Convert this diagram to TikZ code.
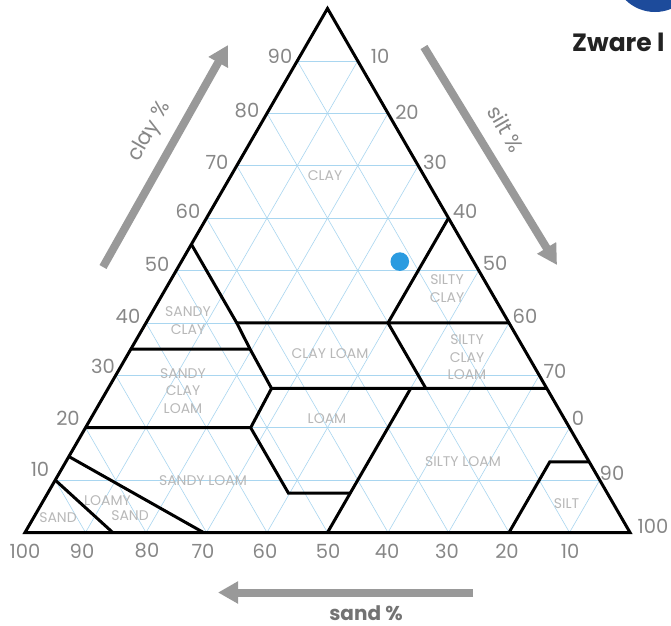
\documentclass[tikz,border=0pt]{standalone}
\usepackage{fontspec}
\setmainfont{Poppins}
\usetikzlibrary{arrows.meta}
\definecolor{gridblue}{HTML}{A9D6F0}
\definecolor{tickgray}{HTML}{878787}
\definecolor{regiongray}{HTML}{B8B8B8}
\definecolor{arrowgray}{HTML}{999999}
\definecolor{dotblue}{HTML}{2B9BE0}
\definecolor{logoblue}{HTML}{1D4B9B}
\definecolor{titleblack}{HTML}{222222}
\tikzset{
  gridline/.style={draw=gridblue, line width=0.6pt},
  boundary/.style={draw=black, line width=3pt},
  ticklbl/.style={text=tickgray, font=\fontsize{19.5}{19.5}\selectfont, inner sep=0pt},
  regionlbl/.style={text=regiongray, font=\fontsize{14}{17.5}\selectfont, align=center, inner sep=0pt},
  bigarrow/.style={draw=arrowgray, line width=8pt, -{Triangle[width=21pt,length=20pt]}},
  axislbl/.style={text=tickgray, font=\fontsize{21}{21}\selectfont, inner sep=0pt},
}
\begin{document}
\begin{tikzpicture}[x=1pt,y=-1pt]
\useasboundingbox (0,0) rectangle (671,625);
\fill[white] (0,0) rectangle (671,625);
% corners: A = sand 100, B = silt 100, C = clay 100
\coordinate (A) at (25,532.5);
\coordinate (B) at (630,532.5);
\coordinate (C) at (327.5,8.5);
% grid (weights are fractions)
\foreach \i in {1,...,9}{
  \pgfmathsetmacro\a{\i/10}
  \pgfmathsetmacro\b{1-\a}
  \draw[gridline] (barycentric cs:A=\b,C=\a) -- (barycentric cs:B=\b,C=\a);
  \draw[gridline] (barycentric cs:A=\a,B=\b) -- (barycentric cs:A=\a,C=\b);
  \draw[gridline] (barycentric cs:B=\a,A=\b) -- (barycentric cs:B=\a,C=\b);
}
% boundary vertices (sand, silt, clay as fractions)
\coordinate (q1) at (barycentric cs:A=.45,B=0,C=.55);
\coordinate (q2) at (barycentric cs:A=.45,B=.15,C=.40);
\coordinate (q3) at (barycentric cs:A=.453,B=.197,C=.35);
\coordinate (q4) at (barycentric cs:A=.455,B=.27,C=.275);
\coordinate (q5) at (barycentric cs:A=.527,B=.273,C=.20);
\coordinate (q6) at (barycentric cs:A=.527,B=.398,C=.075);
\coordinate (q7) at (barycentric cs:A=.425,B=.50,C=.075);
\coordinate (r1) at (barycentric cs:A=.20,B=.40,C=.40);
\coordinate (r2) at (barycentric cs:A=0,B=.60,C=.40);
\coordinate (r3) at (barycentric cs:A=0,B=.40,C=.60);
\coordinate (r4) at (barycentric cs:A=.20,B=.525,C=.275);
\coordinate (r5) at (barycentric cs:A=0,B=.725,C=.275);
\coordinate (r6) at (barycentric cs:A=.225,B=.50,C=.275);
\coordinate (r7) at (barycentric cs:A=.50,B=.50,C=0);
\coordinate (s1) at (barycentric cs:A=.65,B=0,C=.35);
\coordinate (s2) at (barycentric cs:A=.80,B=0,C=.20);
\coordinate (s3) at (barycentric cs:A=.855,B=0,C=.145);
\coordinate (s4) at (barycentric cs:A=.705,B=.295,C=0);
\coordinate (s5) at (barycentric cs:A=.90,B=0,C=.10);
\coordinate (s6) at (barycentric cs:A=.855,B=.145,C=0);
\coordinate (t1) at (barycentric cs:A=.20,B=.80,C=0);
\coordinate (t2) at (barycentric cs:A=.065,B=.80,C=.135);
\coordinate (t3) at (barycentric cs:A=0,B=.865,C=.135);
\coordinate (dot) at (barycentric cs:A=.122,B=.361,C=.517);
% boundaries
\draw[boundary] (q1) -- (q2) -- (q3) -- (q4) -- (q5) -- (q6) -- (q7);
\draw[boundary] (q2) -- (r1) -- (r2);
\draw[boundary] (r1) -- (r3);
\draw[boundary] (r1) -- (r4);
\draw[boundary] (q4) -- (r5);
\draw[boundary] (r6) -- (r7);
\draw[boundary] (s1) -- (q3);
\draw[boundary] (s2) -- (q5);
\draw[boundary] (s3) -- (s4);
\draw[boundary] (s5) -- (s6);
\draw[boundary] (t1) -- (t2) -- (t3);
\draw[boundary] (A) -- (B) -- (C) -- cycle;
% region labels
\node[regionlbl] (lclay) at (325,175.5) {CLAY};
\node[regionlbl] (lsiltyclay) at (447,288.5) {SILTY\\CLAY};
\node[regionlbl] (lsandyclay) at (188,320.5) {SANDY\\CLAY};
\node[regionlbl] (lclayloam) at (330,353.5) {CLAY LOAM};
\node[regionlbl] (lsiltyclayloam) at (467,357.5) {SILTY\\CLAY\\LOAM};
\node[regionlbl] (lsandyclayloam) at (183,391) {SANDY\\CLAY\\LOAM};
\node[regionlbl] (lloam) at (327,419) {LOAM};
\node[regionlbl] (lsandyloam) at (203,480.5) {SANDY LOAM};
\node[regionlbl] (lsiltyloam) at (463,462) {SILTY LOAM};
\node[regionlbl] (lloamy) at (107.5,501) {LOAMY};
\node[regionlbl] (lloamysand) at (130,516) {SAND};
\node[regionlbl] (lsand) at (58,517.5) {SAND};
\node[regionlbl] (lsilt) at (566.5,504) {SILT};
% sample point
\fill[dotblue] (dot) circle[radius=9.3pt];
% tick labels
\foreach \v/\x/\y in {90/280/56, 80/247/111, 70/217/162, 60/188/211, 50/157/264, 40/128/316, 30/103/366, 20/68/418, 10/40/469}
  \node[ticklbl] (cl\v) at (\x,\y) {\v};
\foreach \n/\v/\x/\y in {a/10/380/56, b/20/407/112, c/30/435/162, d/40/465/211, e/50/495/263, f/60/525/316, g/70/555/371, h/0/578/418, i/90/612/473, j/100/653/526}
  \node[ticklbl] (si\n) at (\x,\y) {\v};
\foreach \v/\x in {100/25, 90/82, 80/147, 70/203, 60/265, 50/328, 40/387, 30/447, 20/507, 10/570}
  \node[ticklbl] (sa\v) at (\x,551) {\v};
% axis arrows
\coordinate (clayT) at (103,267);
\coordinate (clayH) at (228,45);
\coordinate (siltT) at (424,47);
\coordinate (siltH) at (557,265);
\coordinate (sandT) at (473,592.5);
\coordinate (sandH) at (218,592.5);
\draw[bigarrow] (clayT) -- (clayH);
\draw[bigarrow] (siltT) -- (siltH);
\draw[bigarrow] (sandT) -- (sandH);
\node[axislbl, rotate=60] (clayname) at (150,132) {clay \%};
\node[axislbl, rotate=-60] (siltname) at (506,129) {silt \%};
\node[axislbl, anchor=base, font=\fontsize{20}{20}\selectfont\bfseries, text=tickgray!85!black] (sandname) at (366,620.5) {sand \%};
% top right fragment
\fill[logoblue] (655,-30) circle[radius=42pt];
\node[anchor=base west, inner sep=0pt, text=titleblack, font=\fontsize{25}{25}\selectfont\bfseries] (title) at (572,51.5) {Zware l};
\end{tikzpicture}
\end{document}
